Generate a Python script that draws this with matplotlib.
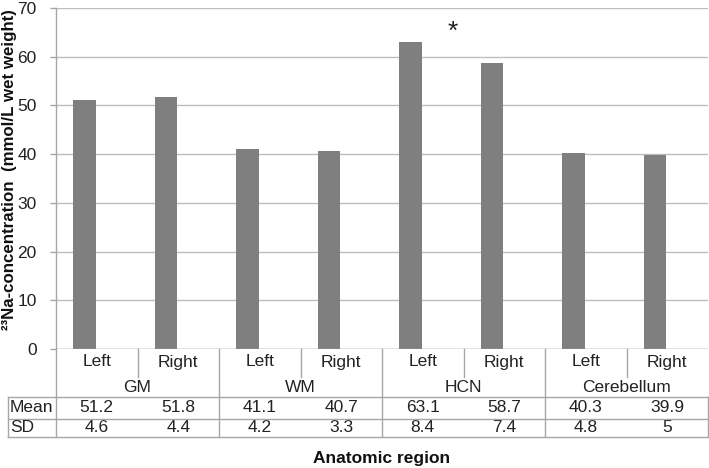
import matplotlib
matplotlib.use("Agg")
import matplotlib.pyplot as plt
from matplotlib.lines import Line2D

plt.rcParams['font.family'] = ['Liberation Sans', 'DejaVu Sans']

sides = ["Left", "Right", "Left", "Right", "Left", "Right", "Left", "Right"]
groups = ["GM", "WM", "HCN", "Cerebellum"]
means = [51.2, 51.8, 41.1, 40.7, 63.1, 58.7, 40.3, 39.9]
sds = [4.6, 4.4, 4.2, 3.3, 8.4, 7.4, 4.8, 5]
yticks = [0, 10, 20, 30, 40, 50, 60, 70]

W, H = 709, 468
fig = plt.figure(figsize=(W / 100, H / 100), dpi=100)
x0, x1, ytop, ybot = 56, 708, 8, 349
ax = fig.add_axes([x0 / W, (H - ybot) / H, (x1 - x0) / W, (ybot - ytop) / H])

n = len(means)
xs = list(range(n))
bar_off = -0.15
ax.bar([x + bar_off for x in xs], means, width=0.28, color="#7f7f7f", zorder=3)

ax.set_xlim(-0.5, n - 0.5)
ax.set_ylim(0, 70)
ax.set_yticks(yticks)
ax.set_yticklabels([str(t) for t in yticks], fontsize=12.5, color="#222222")
ax.set_xticks([])
ax.yaxis.grid(True, color="#bdbdbd", linewidth=1.0, zorder=0)
for s in ["top", "right", "bottom"]:
    ax.spines[s].set_visible(False)
ax.spines["left"].set_color("#a6a6a6")
ax.spines["left"].set_linewidth(1.0)
ax.tick_params(axis="y", length=4, width=1.0, color="#a6a6a6", pad=10)
ax.axhline(0, color="#a6a6a6", linewidth=1.0, zorder=4)

fig.text(9.5 / W, (H - 170) / H, "²³Na-concentration  (mmol/L wet weight)", rotation=90,
         ha="center", va="center", fontsize=12.2, fontweight="bold", color="#111111")

# asterisk
ax.text(4.37, 65.0, "*", fontsize=19, ha="center", va="center", color="#222222")

# table
axh = ybot - ytop
def ya(px):
    return (ybot - px) / axh

tr = ax.get_xaxis_transform()
lc = "#a6a6a6"
lw = 1.0
def vline(xd, ypx0, ypx1):
    ax.add_line(Line2D([xd, xd], [ya(ypx0), ya(ypx1)], transform=tr, color=lc, lw=lw, clip_on=False))

def hline_fig(ypx, xa, xb):
    fig.add_artist(Line2D([xa / W, xb / W], [(H - ypx) / H, (H - ypx) / H], transform=fig.transFigure, color=lc, lw=lw))

# axis line down through table
ax.add_line(Line2D([0, 0], [0, ya(437)], transform=ax.transAxes, color=lc, lw=lw, clip_on=False))
# within-group separators
for i in range(0, n, 2):
    vline(i + 0.5, ybot, 377)
# group separators
for i in range(2, n, 2):
    vline(i - 0.5, ybot, 437)
vline(n - 0.5, 397, 437)
# horizontal lines
for ypx in [397, 419, 437]:
    hline_fig(ypx, 8, x1)
fig.add_artist(Line2D([8 / W, 8 / W], [(H - 397) / H, (H - 437) / H], transform=fig.transFigure, color=lc, lw=lw))

fs = 12.5
tc = "#222222"
for i in xs:
    ax.text(i, ya(362), sides[i], transform=tr, ha="center", va="center", fontsize=fs, color=tc)
    ax.text(i, ya(408), f"{means[i]:g}", transform=tr, ha="center", va="center", fontsize=fs, color=tc)
    ax.text(i, ya(428), f"{sds[i]:g}", transform=tr, ha="center", va="center", fontsize=fs, color=tc)
for g, name in enumerate(groups):
    ax.text(2 * g + 0.5, ya(387), name, transform=tr, ha="center", va="center", fontsize=fs, color=tc)

fig.text(10 / W, (H - 408) / H, "Mean", ha="left", va="center", fontsize=fs, color=tc)
fig.text(10 / W, (H - 428) / H, "SD", ha="left", va="center", fontsize=fs, color=tc)

ax.text(0.5, ya(458), "Anatomic region", transform=ax.transAxes, ha="center", va="center",
        fontsize=12.5, fontweight="bold", color="#111111")

fig.savefig("out.png", dpi=100)
